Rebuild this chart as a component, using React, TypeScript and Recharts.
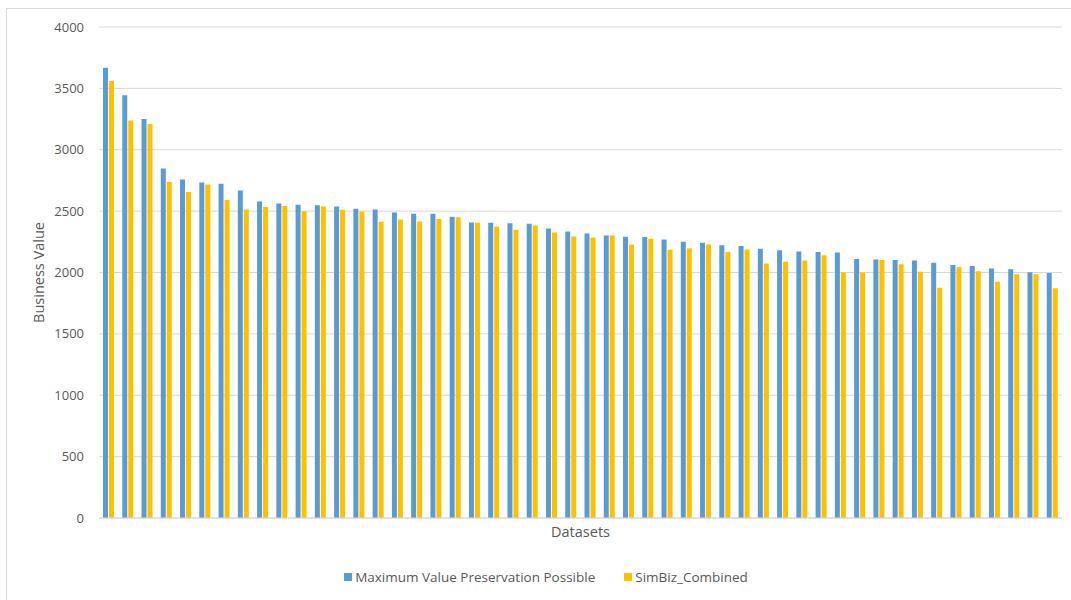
import React from "react";
import { BarChart, Bar, XAxis, YAxis, CartesianGrid, Legend } from "recharts";

// Business value per dataset, sorted by the maximum attainable value
const datasets: string[] = [
  "D1", "D2", "D3", "D4", "D5", "D6", "D7", "D8", "D9", "D10",
  "D11", "D12", "D13", "D14", "D15", "D16", "D17", "D18", "D19", "D20",
  "D21", "D22", "D23", "D24", "D25", "D26", "D27", "D28", "D29", "D30",
  "D31", "D32", "D33", "D34", "D35", "D36", "D37", "D38", "D39", "D40",
  "D41", "D42", "D43", "D44", "D45", "D46", "D47", "D48", "D49", "D50",
];

const maxPreservation: number[] = [
  3668, 3443, 3250, 2848, 2758, 2733, 2723, 2668, 2579, 2562,
  2552, 2548, 2538, 2519, 2514, 2489, 2478, 2478, 2454, 2408,
  2405, 2402, 2397, 2359, 2334, 2318, 2302, 2292, 2290, 2269,
  2250, 2242, 2223, 2215, 2193, 2182, 2171, 2168, 2163, 2109,
  2106, 2101, 2098, 2079, 2062, 2052, 2033, 2027, 2003, 1995,
];

const simBizCombined: number[] = [
  3560, 3239, 3209, 2737, 2655, 2716, 2590, 2514, 2533, 2541,
  2500, 2538, 2511, 2497, 2413, 2432, 2416, 2435, 2451, 2405,
  2372, 2348, 2383, 2326, 2294, 2285, 2302, 2227, 2275, 2185,
  2198, 2228, 2166, 2188, 2073, 2087, 2098, 2141, 2000, 2000,
  2101, 2068, 2006, 1875, 2043, 2011, 1924, 1986, 1986, 1872,
];

const yTicks: number[] = [0, 500, 1000, 1500, 2000, 2500, 3000, 3500, 4000];

const seriesNames = ["Maximum Value Preservation Possible", "SimBiz_Combined"];
const seriesColors = ["#5B9BD5", "#FFC000"];

const data = datasets.map((name, i) => ({
  name,
  maxValue: maxPreservation[i],
  simBiz: simBizCombined[i],
}));

const FONT = "'Open Sans', sans-serif";
const TEXT = "#595959";

const LegendContent = () => (
  <div
    style={{
      display: "flex",
      justifyContent: "center",
      alignItems: "center",
      fontFamily: FONT,
      fontSize: 13.5,
      color: TEXT,
      paddingLeft: 21,
    }}
  >
    {seriesNames.map((label, i) => (
      <div
        key={label}
        style={{ display: "flex", alignItems: "center", marginRight: i === 0 ? 29 : 0 }}
      >
        <span
          style={{
            display: "inline-block",
            width: 8,
            height: 8,
            background: seriesColors[i],
            marginRight: 3,
          }}
        />
        <span>{label}</span>
      </div>
    ))}
  </div>
);

export default function App() {
  return (
    <div style={{ position: "absolute", left: 0, top: 0, width: 1071, height: 600, background: "#fff" }}>
      <div
        style={{
          position: "absolute",
          left: 6,
          top: 8,
          width: 1070,
          height: 600,
          borderLeft: "1px solid #d9d9d9",
          borderTop: "1px solid #d9d9d9",
        }}
      />
      <BarChart
        width={1071}
        height={600}
        data={data}
        margin={{ top: 27, right: 9, bottom: 52, left: 0 }}
        barSize={5}
        barGap={1}
        style={{ position: "absolute", left: 0, top: 0 }}
      >
        <CartesianGrid vertical={false} stroke="#d9d9d9" strokeWidth={1} />
        <XAxis
          dataKey="name"
          tick={false}
          tickLine={false}
          height={30}
          axisLine={{ stroke: "#d9d9d9" }}
          label={{
            value: "Datasets",
            position: "center",
            dy: -1,
            style: { fontFamily: FONT, fontSize: 14.5, fill: TEXT },
          }}
        />
        <YAxis
          width={99}
          domain={[0, 4000]}
          ticks={yTicks}
          interval={0}
          axisLine={false}
          tickLine={false}
          tickMargin={9}
          tick={{ fontFamily: FONT, fontSize: 13, fill: TEXT }}
          label={{
            value: "Business Value",
            angle: -90,
            position: "center",
            dx: -11,
            style: { fontFamily: FONT, fontSize: 14.5, fill: TEXT, textAnchor: "middle" },
          }}
        />
        <Legend
          verticalAlign="middle"
          align="center"
          content={<LegendContent />}
          wrapperStyle={{ top: 568, left: 0, width: 1071 }}
        />
        <Bar dataKey="maxValue" name={seriesNames[0]} fill={seriesColors[0]} isAnimationActive={false} />
        <Bar dataKey="simBiz" name={seriesNames[1]} fill={seriesColors[1]} isAnimationActive={false} />
      </BarChart>
    </div>
  );
}
